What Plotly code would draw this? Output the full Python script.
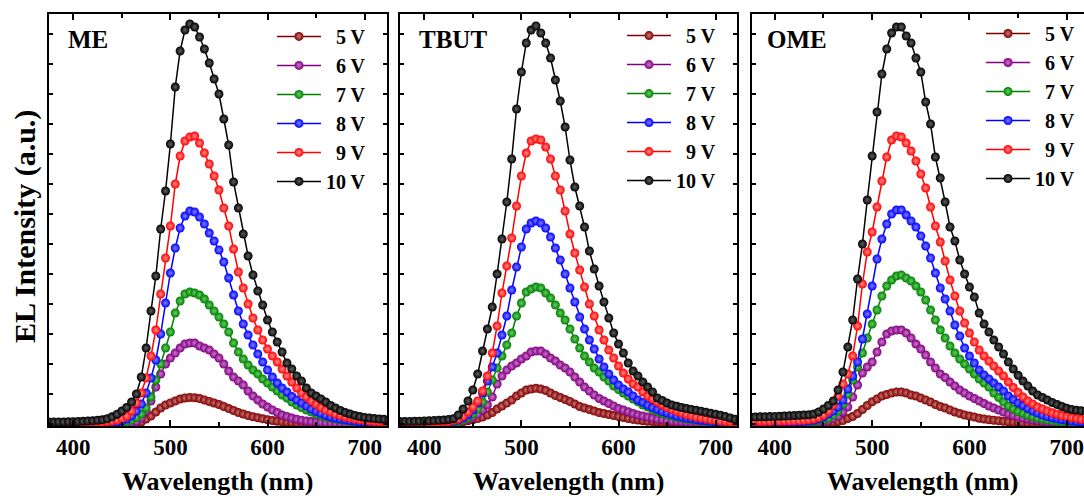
import plotly.graph_objects as go

# Wavelength grid (nm) shared by every spectrum
wavelength = list(range(375, 726, 5))

voltages = ["5 V", "6 V", "7 V", "8 V", "9 V", "10 V"]

# ---- ME device: EL intensity (a.u.) at each drive voltage ----
me_5v = [0, 0, 0, 0, 0, 0, 0, 0, 0, 0,
         0, 0, 0, 0, 0, 0, 0.1, 0.2, 0.5, 2,
         5, 8, 12, 16, 19, 21, 23, 25, 26, 26.5,
         26.3, 25.5, 24, 22.5, 21, 19.5, 17.5, 15.5, 13.5, 11.5,
         10, 8.5, 7.3, 6.3, 5.2, 4.3, 3.5, 2.8, 2.2, 1.8,
         1.4, 1.1, 0.9, 0.7, 0.6, 0.5, 0.4, 0.3, 0.3, 0.2,
         0.2, 0.2, 0.2, 0.2, 0.2, 0.2, 0.2, 0.2, 0.2, 0.2, 0.2]
me_6v = [0.1, 0.1, 0.1, 0.1, 0.1, 0.1, 0.1, 0.1, 0.1, 0.1,
         0.1, 0.1, 0.2, 0.2, 0.3, 0.4, 0.6, 1.0, 2.5, 6,
         13, 23, 37, 50, 60, 66, 71, 76, 80, 81,
         81, 78, 76, 74, 70, 66, 60, 53, 47, 43,
         39, 33, 28, 24, 20, 17, 14, 11.5, 9, 7.5,
         6, 4.8, 3.8, 3.0, 2.4, 2.0, 1.6, 1.3, 1.1, 0.9,
         0.8, 0.7, 0.6, 0.5, 0.5, 0.4, 0.4, 0.3, 0.3, 0.3, 0.3]
me_7v = [0.2, 0.2, 0.2, 0.2, 0.2, 0.2, 0.2, 0.3, 0.3, 0.3,
         0.4, 0.5, 0.6, 0.8, 1.1, 1.6, 2.5, 4, 6.5, 10,
         16, 27, 44, 60, 76, 92, 111, 123, 130, 132,
         131, 129, 125, 119, 113, 107, 100, 92, 81, 72,
         65, 59, 54, 50, 45, 41, 37, 33, 29, 26,
         22, 19, 16.5, 14, 12, 10, 8.5, 7, 6, 5,
         4.2, 3.5, 2.9, 2.4, 2.0, 1.6, 1.3, 1.1, 1.0, 0.9, 0.8]
me_8v = [0.3, 0.3, 0.3, 0.3, 0.3, 0.4, 0.4, 0.5, 0.5, 0.6,
         0.7, 0.9, 1.1, 1.5, 2, 3, 5, 8, 13, 20,
         31, 46, 64, 90, 121, 151, 176, 196, 208, 213,
         212, 207, 200, 191, 183, 174, 162, 146, 129, 113,
         100, 89, 79, 70, 62, 54, 47, 41, 36, 32,
         27.5, 24, 21, 18, 15, 12.5, 10.5, 8.5, 7, 6,
         5, 4.2, 3.4, 2.8, 2.3, 1.9, 1.6, 1.3, 1.1, 1.0, 0.9]
me_9v = [0.6, 0.6, 0.6, 0.6, 0.7, 0.7, 0.8, 0.9, 1.0, 1.2,
         1.4, 1.7, 2.2, 3.0, 4.0, 5.5, 8, 13, 21, 31,
         46, 68, 94, 130, 166, 198, 240, 268, 283, 287,
         288, 281, 271, 260, 248, 234, 216, 198, 175, 152,
         136, 120, 106, 94, 84, 75, 68, 62, 55, 48,
         42, 36, 31, 27, 23, 19.5, 16.5, 14, 12, 10,
         8.5, 7, 6, 5, 4.2, 3.5, 3, 2.5, 2.1, 1.8, 1.6]
me_10v = [2.0, 2.0, 2.1, 2.1, 2.2, 2.3, 2.5, 2.7, 3.0, 3.3,
          3.7, 4.2, 5.2, 7.2, 9.8, 13, 16.5, 22, 30, 47,
          76, 113, 148, 195, 233, 280, 337, 373, 394, 400,
          397, 387, 375, 361, 345, 330, 305, 279, 242, 216,
          190, 168, 149, 133, 119, 104, 92, 82, 72, 61,
          55, 48, 43, 36, 31, 28, 25, 22, 18.5, 16,
          13.5, 11.5, 10, 8.6, 7.5, 6.6, 5.9, 5.4, 5.0, 4.7, 4.5]

# ---- TBUT device ----
tbut_5v = [0.1, 0.1, 0.1, 0.1, 0.1, 0.1, 0.2, 0.2, 0.3, 0.4,
           0.6, 0.9, 1.4, 2.2, 3.2, 4.3, 5.5, 7, 9, 11.5,
           15, 18, 21, 24, 28, 31, 34, 35, 35.7, 35,
           33.5, 31, 28.5, 26.5, 24.5, 22.5, 20, 17.5, 16, 14.5,
           13, 11.5, 10.5, 9.5, 8.5, 7.5, 6.5, 5.5, 4.6, 3.9,
           3.3, 2.8, 2.4, 2.0, 1.7, 1.4, 1.2, 1.0, 0.9, 0.8,
           0.7, 0.6, 0.5, 0.5, 0.4, 0.4, 0.3, 0.3, 0.3, 0.3, 0.3]
tbut_6v = [0.2, 0.2, 0.2, 0.2, 0.3, 0.3, 0.3, 0.4, 0.5, 0.6,
           0.8, 1.2, 2, 3.5, 5, 7, 10, 14, 19, 27,
           40, 48, 54, 58, 61, 65, 68, 72, 73, 73,
           70, 66, 63, 59, 56, 52, 47, 42, 37, 33,
           29, 25.5, 23, 20.5, 18, 15.5, 14, 12.3, 10.5, 9,
           8, 7, 6, 5, 4.3, 3.6, 3, 2.5, 2.1, 1.8,
           1.5, 1.3, 1.1, 0.9, 0.8, 0.7, 0.6, 0.5, 0.5, 0.4, 0.4]
tbut_7v = [0.4, 0.4, 0.4, 0.4, 0.5, 0.5, 0.6, 0.7, 0.8, 1.0,
           1.3, 1.8, 2.5, 4, 6.5, 10, 15, 22, 32, 44,
           56, 68, 79, 91, 108, 121, 132, 135, 137, 136,
           131, 126, 119, 111, 104, 95, 85, 76, 68, 62,
           56, 52, 47, 43, 38, 34.5, 31, 28, 25, 22.3,
           19, 17, 14.5, 12.5, 10.8, 9.3, 8, 6.8, 5.8, 5,
           4.3, 3.7, 3.1, 2.6, 2.2, 1.9, 1.6, 1.4, 1.2, 1.0, 0.9]
tbut_8v = [0.6, 0.6, 0.6, 0.7, 0.7, 0.8, 0.9, 1.0, 1.2, 1.5,
           2, 2.8, 4, 6, 9, 14, 21, 31, 43, 57,
           71, 89, 108, 134, 157, 177, 195, 201, 203, 201,
           196, 187, 176, 164, 150, 136, 122, 107, 95, 84,
           75, 65, 57, 50, 44, 39, 35, 32, 28, 24,
           21.5, 19, 16.5, 14.5, 12.5, 11, 9.5, 8, 7, 6,
           5.2, 4.5, 3.8, 3.2, 2.7, 2.3, 2, 1.7, 1.5, 1.3, 1.2]
tbut_9v = [1.0, 1.0, 1.0, 1.1, 1.1, 1.2, 1.3, 1.5, 1.7, 2.0,
           2.5, 3.5, 5, 8, 12, 17, 23, 33, 48, 71,
           98, 131, 158, 186, 218, 248, 271, 283, 285, 284,
           277, 265, 248, 234, 213, 190, 171, 154, 137, 120,
           108, 94, 84, 74, 66, 58, 51, 45, 40, 37,
           32, 28, 25, 22, 19, 16.5, 14.5, 12.5, 11, 9.5,
           8.2, 7, 6, 5.1, 4.3, 3.6, 3, 2.5, 2.1, 1.8, 1.6]
tbut_10v = [2.5, 2.5, 2.6, 2.7, 2.8, 3.0, 3.2, 3.4, 3.7, 4.0,
            4.5, 5.3, 9, 15, 23, 34, 50, 73, 95, 117,
            150, 185, 222, 265, 315, 352, 381, 394, 398, 391,
            381, 366, 344, 323, 297, 264, 237, 218, 197, 173,
            155, 138, 122, 106, 91, 80, 71, 61, 53, 48,
            42, 37, 32, 26, 23.5, 21, 19, 17.8, 16.5, 15.5,
            14.5, 13.7, 12.7, 11.7, 10.7, 9.8, 8.8, 7.4, 6, 4.8, 4.2]

# ---- OME device ----
ome_5v = [0.2, 0.2, 0.2, 0.2, 0.2, 0.2, 0.2, 0.2, 0.3, 0.3,
          0.3, 0.3, 0.4, 0.5, 0.7, 0.9, 1.2, 1.7, 2.4, 3.5,
          5.5, 7.5, 10.5, 14.5, 18.5, 22.3, 25, 28, 29.5, 31,
          32, 32, 31, 29, 28, 26, 24, 22, 19.5, 17.5,
          16, 14, 12, 10.5, 9, 8, 7, 5.7, 5, 4.3,
          3.8, 3.3, 2.8, 2.3, 1.9, 1.6, 1.3, 1.1, 0.9, 0.8,
          0.7, 0.6, 0.5, 0.5, 0.4, 0.4, 0.3, 0.3, 0.3, 0.3, 0.3]
ome_6v = [0.5, 0.5, 0.5, 0.5, 0.5, 0.6, 0.6, 0.6, 0.7, 0.7,
          0.8, 0.9, 1, 1.3, 1.7, 2.4, 3.5, 5.5, 8, 12,
          17, 27, 39, 51, 57, 62, 72, 82, 90, 93,
          94, 94, 91, 86, 80, 75, 69, 62, 56, 50,
          46.5, 42, 38, 34, 31, 28, 25.5, 23, 20.5, 18,
          16, 14, 12, 10, 8.5, 7.2, 6, 5, 4, 3.3,
          2.7, 2.2, 1.8, 1.5, 1.2, 1.0, 0.9, 0.8, 0.7, 0.6, 0.6]
ome_7v = [1.0, 1.0, 1.0, 1.0, 1.0, 1.1, 1.1, 1.2, 1.3, 1.4,
          1.5, 1.7, 2, 2.5, 3.3, 4.5, 6, 9, 13, 20,
          30, 44, 57, 71, 86, 100, 114, 128, 138, 144,
          148, 149, 146, 143, 138, 132, 124, 114, 104, 94,
          86, 78, 71, 65, 60, 55, 50, 45, 41, 37,
          31, 26.5, 22, 18, 15, 12.5, 10.5, 8.8, 7.3, 6,
          5, 4.1, 3.4, 2.8, 2.3, 1.9, 1.6, 1.4, 1.2, 1.0, 0.9]
ome_8v = [1.5, 1.5, 1.5, 1.5, 1.6, 1.6, 1.7, 1.8, 1.9, 2.0,
          2.2, 2.5, 3, 3.8, 5, 7, 10, 13, 17, 24,
          35, 48, 62, 85, 110, 138, 165, 185, 200, 210,
          214, 214, 209, 203, 197, 188, 178, 166, 151, 136,
          125, 113, 99, 88, 76, 68, 61, 54, 49, 45,
          41, 37, 33, 28, 24.5, 21, 18.5, 15.5, 13, 11,
          9, 7.5, 6.3, 5.2, 4.3, 3.6, 3, 2.5, 2.1, 1.8, 1.6]
ome_9v = [2.5, 2.5, 2.5, 2.6, 2.6, 2.7, 2.8, 2.9, 3.0, 3.2,
          3.4, 3.7, 4.2, 5, 6.5, 9, 13, 19, 28, 40,
          50, 68, 98, 140, 172, 192, 217, 243, 267, 284,
          288, 287, 281, 273, 263, 250, 236, 217, 198, 182,
          163, 144, 128, 113, 101, 91, 82, 74, 68, 63,
          58, 53, 48, 42, 36.5, 31.5, 27, 23, 20, 17,
          15, 13, 11.2, 9.8, 8.5, 7.4, 6.5, 5.6, 4.8, 4.2, 3.8]
ome_10v = [7.0, 7.1, 7.2, 7.3, 7.4, 7.6, 7.8, 8.0, 8.2, 8.5,
           8.8, 9.0, 9.3, 10, 12, 15, 18.5, 23, 34, 52,
           77, 104, 145, 180, 224, 268, 312, 350, 375, 391,
           397, 397, 388, 381, 366, 352, 322, 300, 267, 246,
           222, 197, 183, 164, 150, 137, 127, 111, 100, 92,
           84, 77, 70, 62, 55, 48.7, 43, 38, 33, 29,
           26.5, 24, 21.5, 19.5, 17.5, 15.8, 14.5, 13.7, 13.2, 12.8, 12.5]

panel_names = ["ME", "TBUT", "OME"]
panel_series = [
    [me_5v, me_6v, me_7v, me_8v, me_9v, me_10v],
    [tbut_5v, tbut_6v, tbut_7v, tbut_8v, tbut_9v, tbut_10v],
    [ome_5v, ome_6v, ome_7v, ome_8v, ome_9v, ome_10v],
]

# Line / ball colours per voltage, and the lighter centre used for the ball shading
colors = ["#800000", "#800080", "#008000", "#0000ff", "#ff0000", "#000000"]
shine = ["#cc7a7a", "#cc7acc", "#66cc66", "#7f7fff", "#ff8c8c", "#606060"]

FONT = "Liberation Serif, Times New Roman, Times, serif"

# Panel placement in the figure (paper fractions) and wavelength windows
x_domains = [[0.0452, 0.3570], [0.3690, 0.6799], [0.6937, 1.0]]
x_ranges = [[375, 723], [375, 722], [376.5, 717.7]]
legend_x = [0.2509, 0.5738, 0.9050]
legend_y = [0.993, 0.995, 1.0]
label_x = [0.0609, 0.3847, 0.7057]

fig = go.Figure()

for p in range(3):
    suffix = "" if p == 0 else str(p + 1)
    for v, (label, vals) in enumerate(zip(voltages, panel_series[p])):
        name = label if len(label) > 3 else "\u2007" + label
        fig.add_trace(go.Scatter(
            x=wavelength, y=vals, mode="lines+markers", name=name,
            line=dict(color=colors[v], width=1.5),
            marker=dict(size=9, color=colors[v],
                        gradient=dict(type="radial", color=shine[v]),
                        line=dict(width=0)),
            xaxis="x" + suffix, yaxis="y" + suffix,
            legend="legend" + suffix,
        ))

layout = dict(
    width=1084, height=497,
    margin=dict(l=0, r=0, t=14, b=71),
    paper_bgcolor="white", plot_bgcolor="white",
    font=dict(family=FONT, color="black"),
    showlegend=True,
)

for p in range(3):
    suffix = "" if p == 0 else str(p + 1)
    layout["xaxis" + suffix] = dict(
        domain=x_domains[p], range=x_ranges[p], anchor="y" + suffix,
        showline=True, linecolor="black", linewidth=1.5, mirror="ticks",
        ticks="inside", ticklen=6, tickwidth=1.5, tickcolor="black",
        tick0=0, dtick=100, ticklabeloverflow="allow",
        minor=dict(dtick=50, ticks="inside", ticklen=4, tickwidth=1.5, tickcolor="black"),
        tickfont=dict(family=FONT, size=23, weight="bold"),
        showgrid=False, zeroline=False,
    )
    layout["yaxis" + suffix] = dict(
        domain=[0, 1], range=[-2, 410], anchor="x" + suffix,
        showline=True, linecolor="black", linewidth=1.5,
        mirror="ticks" if p < 2 else False,
        ticks="inside", ticklen=4, tickwidth=1.5, tickcolor="black",
        tick0=0, dtick=30, showticklabels=False,
        showgrid=False, zeroline=False,
    )
    layout["legend" + suffix] = dict(
        x=legend_x[p], y=legend_y[p], xanchor="left", yanchor="top",
        bgcolor="rgba(0,0,0,0)", borderwidth=0,
        font=dict(family=FONT, size=20, weight="bold", color="black"),
        tracegroupgap=0, itemwidth=44,
    )

annotations = []
for p in range(3):
    annotations.append(dict(
        text="<b>%s</b>" % panel_names[p], x=label_x[p], y=0.937,
        xref="paper", yref="paper", xanchor="left", yanchor="middle",
        showarrow=False, font=dict(family=FONT, size=25, color="black"),
    ))
    annotations.append(dict(
        text="<b>Wavelength (nm)</b>",
        x=(x_domains[p][0] + x_domains[p][1]) / 2 if p < 2 else 0.8512,
        y=-0.135, xref="paper", yref="paper", xanchor="center", yanchor="middle",
        showarrow=False, font=dict(family=FONT, size=26, color="black"),
    ))
annotations.append(dict(
    text="<b>EL Intensity (a.u.)</b>", x=0.0231, y=0.483, textangle=-90,
    xref="paper", yref="paper", xanchor="center", yanchor="middle",
    showarrow=False, font=dict(family=FONT, size=30, color="black"),
))
layout["annotations"] = annotations

fig.update_layout(**layout)
fig.write_html("out.html")
